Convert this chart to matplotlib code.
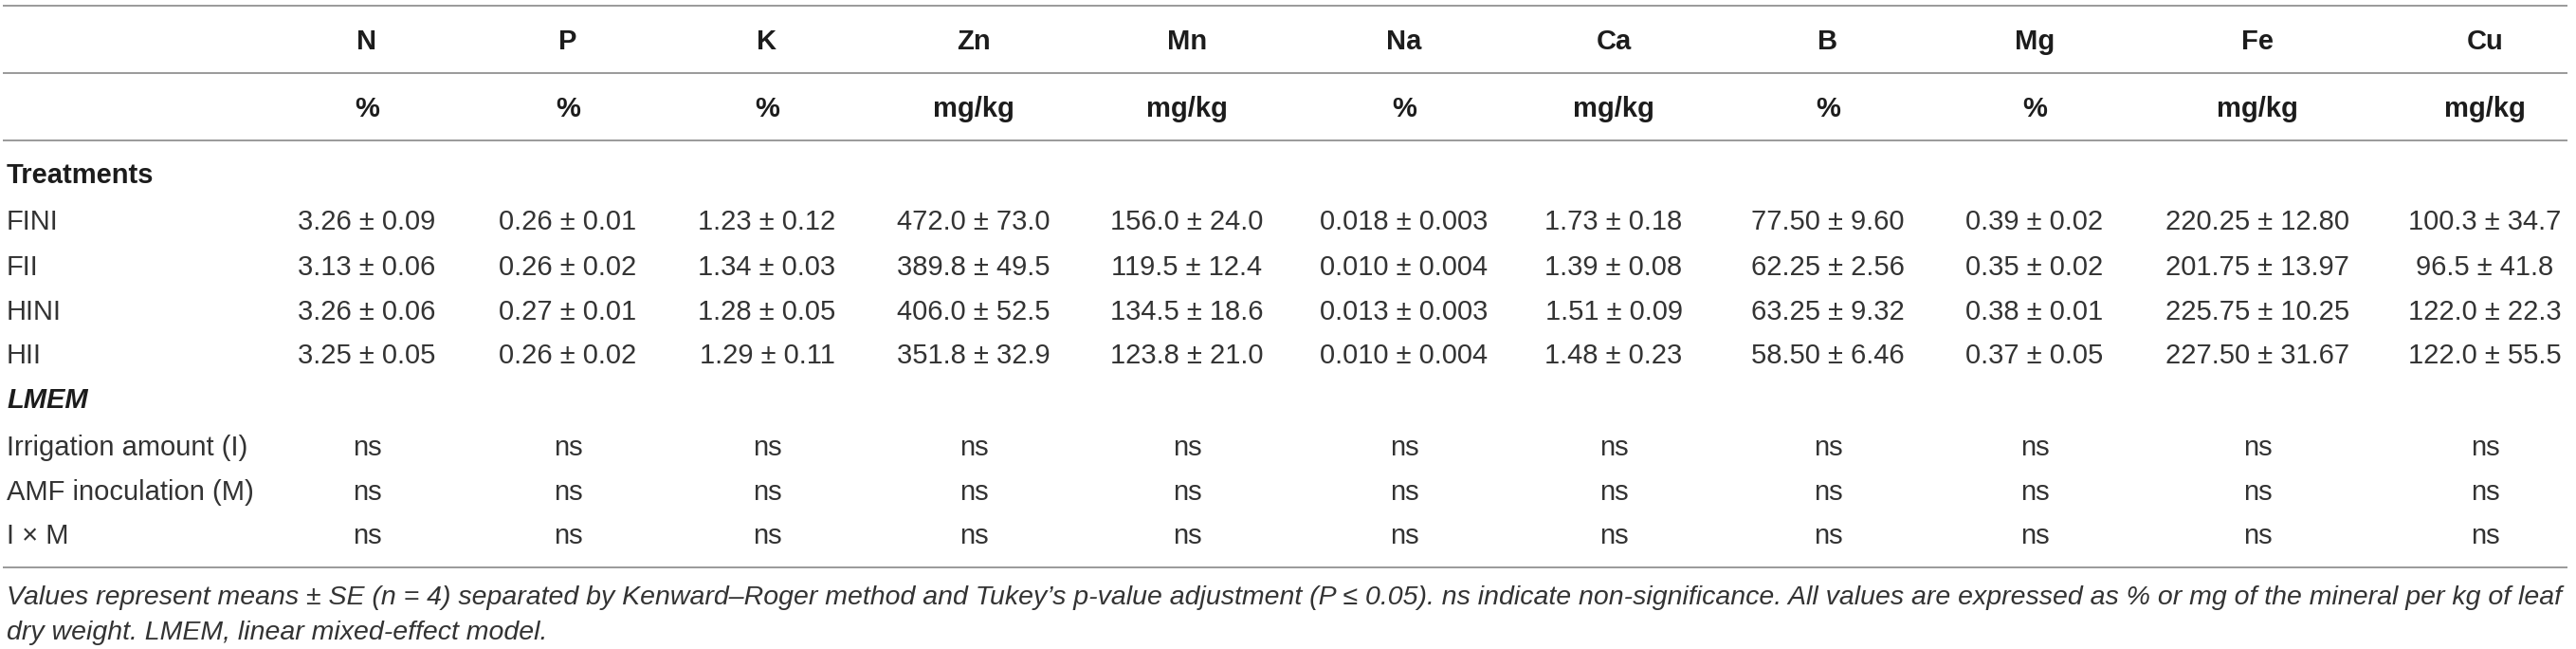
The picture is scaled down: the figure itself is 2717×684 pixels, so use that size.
import matplotlib
matplotlib.use("Agg")
import matplotlib.pyplot as plt

# table content
elements = ["N", "P", "K", "Zn", "Mn", "Na", "Ca", "B", "Mg", "Fe", "Cu"]
units = ["%", "%", "%", "mg/kg", "mg/kg", "%", "mg/kg", "%", "%", "mg/kg", "mg/kg"]
decimals = [2, 2, 2, 1, 1, 3, 2, 2, 2, 2, 1]
treatments = ["FINI", "FII", "HINI", "HII"]

means = [
    [3.26, 0.26, 1.23, 472.0, 156.0, 0.018, 1.73, 77.50, 0.39, 220.25, 100.3],
    [3.13, 0.26, 1.34, 389.8, 119.5, 0.010, 1.39, 62.25, 0.35, 201.75, 96.5],
    [3.26, 0.27, 1.28, 406.0, 134.5, 0.013, 1.51, 63.25, 0.38, 225.75, 122.0],
    [3.25, 0.26, 1.29, 351.8, 123.8, 0.010, 1.48, 58.50, 0.37, 227.50, 122.0],
]
ses = [
    [0.09, 0.01, 0.12, 73.0, 24.0, 0.003, 0.18, 9.60, 0.02, 12.80, 34.7],
    [0.06, 0.02, 0.03, 49.5, 12.4, 0.004, 0.08, 2.56, 0.02, 13.97, 41.8],
    [0.06, 0.01, 0.05, 52.5, 18.6, 0.003, 0.09, 9.32, 0.01, 10.25, 22.3],
    [0.05, 0.02, 0.11, 32.9, 21.0, 0.004, 0.23, 6.46, 0.05, 31.67, 55.5],
]

effects = ["Irrigation amount (I)", "AMF inoculation (M)", "I \u00d7 M"]
effect_sig = [["ns"] * 11, ["ns"] * 11, ["ns"] * 11]

footnote = [
    "Values represent means \u00b1 SE (n = 4) separated by Kenward\u2013Roger method and Tukey\u2019s "
    "p-value adjustment (P \u2264 0.05). ns indicate non-significance. All values are expressed "
    "as % or mg of the mineral per kg of leaf",
    "dry weight. LMEM, linear mixed-effect model.",
]

W, H = 2717, 684
col_x = [387, 599, 809, 1027, 1252, 1481, 1702, 1928, 2146, 2381, 2621]

plt.rcParams["font.family"] = ["Liberation Sans", "DejaVu Sans"]
FS = 21
TXT = "#333333"
HEAD = "#1c1c1c"
RULE = "#9a9a9a"

fig = plt.figure(figsize=(W / 100, H / 100), dpi=100)
ax = fig.add_axes([0, 0, 1, 1])
ax.set_xlim(0, W)
ax.set_ylim(H, 0)
ax.axis("off")


def put(x, yc, s, **kw):
    # yc is the visual centre of capitals, text placed on baseline
    kw.setdefault("color", TXT)
    kw.setdefault("fontsize", FS)
    ax.text(x, yc + 10, s, va="baseline", **kw)


for y in [6, 77, 148, 598]:
    ax.plot([3, 2708], [y, y], color=RULE, lw=1.4, solid_capstyle="butt")

for x, el, un in zip(col_x, elements, units):
    put(x, 42, el, ha="center", fontweight="bold", color=HEAD)
    put(x, 113, un, ha="center", fontweight="bold", color=HEAD)

put(7, 183, "Treatments", fontweight="bold", color=HEAD)
row_y = [232, 280, 327, 373]
for yc, name, mrow, srow in zip(row_y, treatments, means, ses):
    put(7, yc, name)
    for x, m, s, d in zip(col_x, mrow, srow, decimals):
        put(x, yc, f"{m:.{d}f} \u00b1 {s:.{d}f}", ha="center")

put(7, 420, "LMEM", fontweight="bold", style="italic", color=HEAD)
eff_y = [470, 517, 563]
for yc, name, sig in zip(eff_y, effects, effect_sig):
    put(7, yc, name)
    for x, s in zip(col_x, sig):
        put(x, yc, s, ha="center")

# the footnote font in the source is narrower, so shrink slightly to fit
put(7, 627, footnote[0], style="italic", fontsize=20.5)
put(7, 664, footnote[1], style="italic", fontsize=20.5)

fig.savefig("out.png", dpi=100)
